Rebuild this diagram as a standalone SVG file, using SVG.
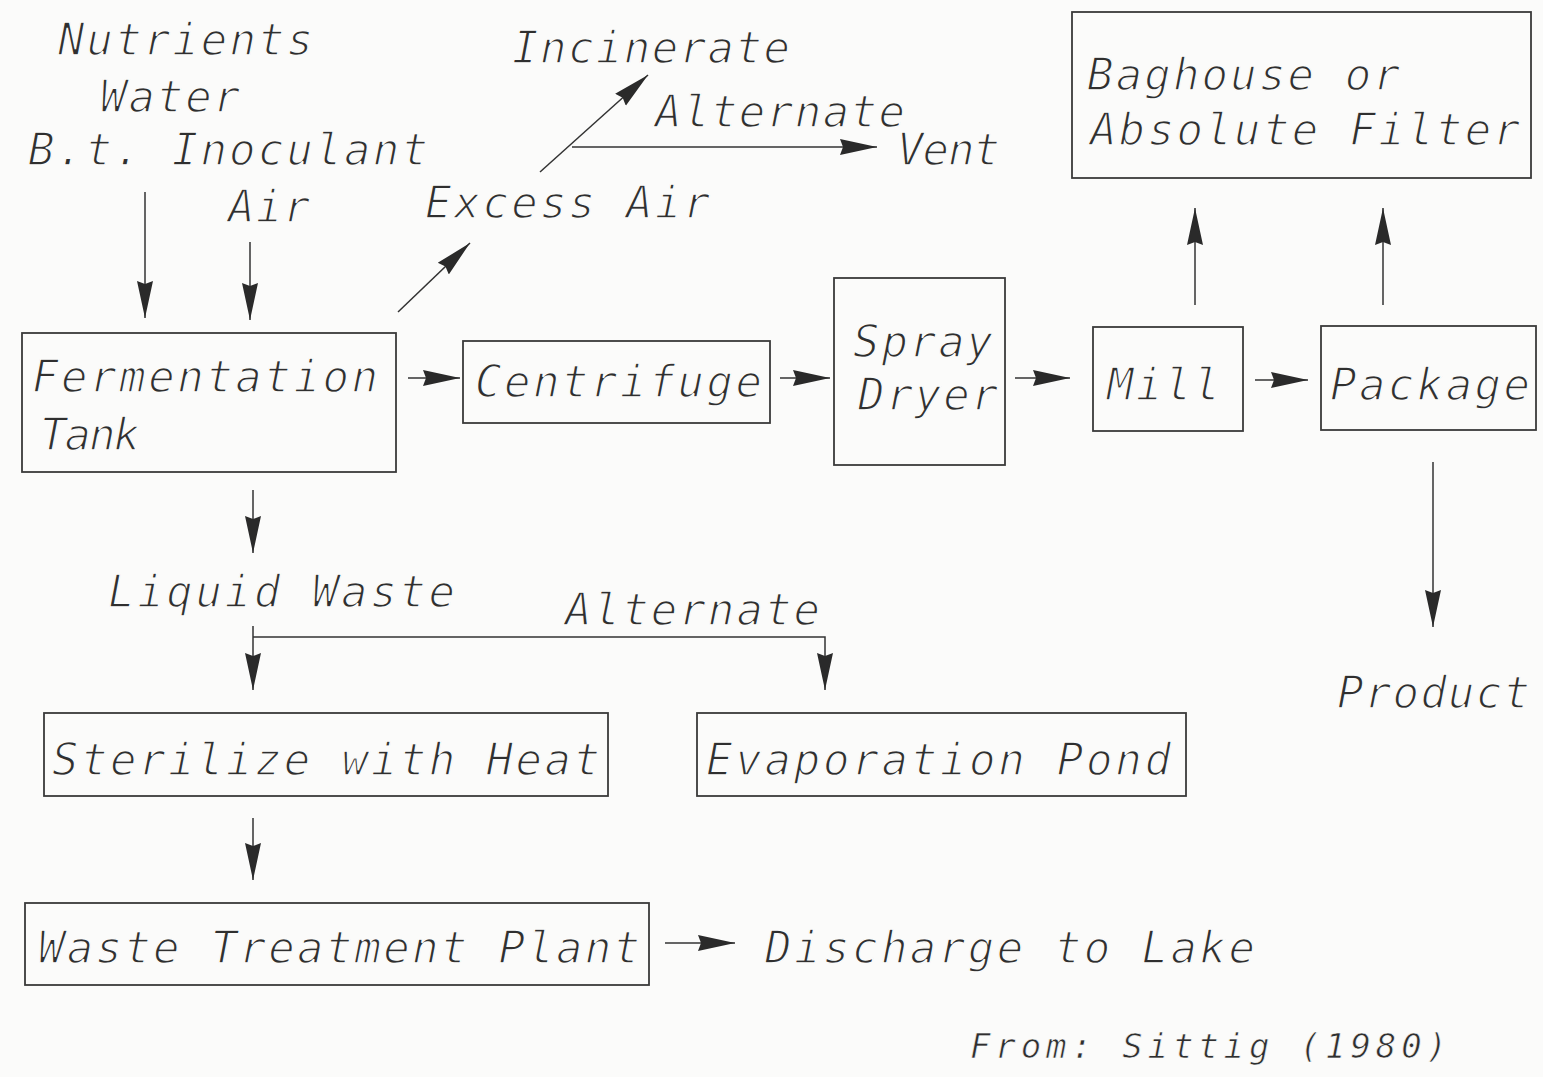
<svg xmlns="http://www.w3.org/2000/svg" width="1543" height="1077" viewBox="0 0 1543 1077">
<style>
text{font-family:"DejaVu Sans Mono","Liberation Mono",monospace;font-style:oblique;font-size:44px;fill:#2f2f2f;stroke:#fbfbfa;stroke-width:1.4px}
.sm{font-size:34px;stroke-width:0.7px}
.box{fill:none;stroke:#3a3a3a;stroke-width:1.8}
.ln{fill:none;stroke:#333;stroke-width:1.5}
</style>
<defs>
<marker id="ah" markerUnits="userSpaceOnUse" markerWidth="40" markerHeight="20" refX="37" refY="10" orient="auto">
<path d="M0,2 L37,10 L0,18 L3,10 z" fill="#2a2a2a"/>
</marker>
</defs>
<rect width="1543" height="1077" fill="#fbfbfa"/>

<g id="labels">
<text x="58" y="55" textLength="255" lengthAdjust="spacing">Nutrients</text>
<text x="100" y="112" textLength="140" lengthAdjust="spacing">Water</text>
<text x="28" y="165" textLength="400" lengthAdjust="spacing">B.t. Inoculant</text>
<text x="228" y="222" textLength="82" lengthAdjust="spacing">Air</text>
<text x="512" y="63" textLength="278" lengthAdjust="spacing">Incinerate</text>
<text x="655" y="127" textLength="250" lengthAdjust="spacing">Alternate</text>
<text x="897" y="165" textLength="103" lengthAdjust="spacing">Vent</text>
<text x="425" y="218" textLength="285" lengthAdjust="spacing">Excess Air</text>
<text x="108" y="607" textLength="347" lengthAdjust="spacing">Liquid Waste</text>
<text x="565" y="625" textLength="255" lengthAdjust="spacing">Alternate</text>
<text x="765" y="963" textLength="490" lengthAdjust="spacing">Discharge to Lake</text>
<text x="1337" y="708" textLength="193" lengthAdjust="spacing">Product</text>
<text class="sm" x="970" y="1058" textLength="477" lengthAdjust="spacing">From: Sittig (1980)</text>
</g>

<g id="node-baghouse">
<rect class="box" x="1072" y="12" width="459" height="166"/>
<text x="1087" y="90" textLength="313" lengthAdjust="spacing">Baghouse or</text>
<text x="1090" y="145" textLength="430" lengthAdjust="spacing">Absolute Filter</text>
</g>
<g id="node-fermentation">
<rect class="box" x="22" y="333" width="374" height="139"/>
<text x="32" y="392" textLength="346" lengthAdjust="spacing">Fermentation</text>
<text x="40" y="450" textLength="100" lengthAdjust="spacing">Tank</text>
</g>
<g id="node-centrifuge">
<rect class="box" x="463" y="341" width="307" height="82"/>
<text x="475" y="397" textLength="287" lengthAdjust="spacing">Centrifuge</text>
</g>
<g id="node-spraydryer">
<rect class="box" x="834" y="278" width="171" height="187"/>
<text x="853" y="357" textLength="140" lengthAdjust="spacing">Spray</text>
<text x="858" y="410" textLength="140" lengthAdjust="spacing">Dryer</text>
</g>
<g id="node-mill">
<rect class="box" x="1093" y="327" width="150" height="104"/>
<text x="1107" y="400" textLength="113" lengthAdjust="spacing">Mill</text>
</g>
<g id="node-package">
<rect class="box" x="1321" y="326" width="215" height="104"/>
<text x="1330" y="400" textLength="200" lengthAdjust="spacing">Package</text>
</g>
<g id="node-sterilize">
<rect class="box" x="44" y="713" width="564" height="83"/>
<text x="52" y="775" textLength="548" lengthAdjust="spacing">Sterilize with Heat</text>
</g>
<g id="node-evaporation">
<rect class="box" x="697" y="713" width="489" height="83"/>
<text x="706" y="775" textLength="465" lengthAdjust="spacing">Evaporation Pond</text>
</g>
<g id="node-wastetreatment">
<rect class="box" x="25" y="903" width="624" height="82"/>
<text x="38" y="963" textLength="602" lengthAdjust="spacing">Waste Treatment Plant</text>
</g>

<g id="connectors">
<line class="ln" x1="145" y1="192" x2="145" y2="318" marker-end="url(#ah)"/>
<line class="ln" x1="250" y1="242" x2="250" y2="320" marker-end="url(#ah)"/>
<line class="ln" x1="398" y1="312" x2="470" y2="243" marker-end="url(#ah)"/>
<line class="ln" x1="540" y1="172" x2="648" y2="75" marker-end="url(#ah)"/>
<line class="ln" x1="572" y1="147" x2="877" y2="147" marker-end="url(#ah)"/>
<line class="ln" x1="408" y1="378" x2="460" y2="378" marker-end="url(#ah)"/>
<line class="ln" x1="780" y1="378" x2="830" y2="378" marker-end="url(#ah)"/>
<line class="ln" x1="1015" y1="378" x2="1070" y2="378" marker-end="url(#ah)"/>
<line class="ln" x1="1255" y1="380" x2="1308" y2="380" marker-end="url(#ah)"/>
<line class="ln" x1="1195" y1="305" x2="1195" y2="208" marker-end="url(#ah)"/>
<line class="ln" x1="1383" y1="305" x2="1383" y2="208" marker-end="url(#ah)"/>
<line class="ln" x1="1433" y1="462" x2="1433" y2="627" marker-end="url(#ah)"/>
<line class="ln" x1="253" y1="490" x2="253" y2="553" marker-end="url(#ah)"/>
<line class="ln" x1="253" y1="626" x2="253" y2="690" marker-end="url(#ah)"/>
<polyline class="ln" points="253,637 825,637 825,690" marker-end="url(#ah)"/>
<line class="ln" x1="253" y1="818" x2="253" y2="880" marker-end="url(#ah)"/>
<line class="ln" x1="665" y1="943" x2="735" y2="943" marker-end="url(#ah)"/>
</g>
</svg>
